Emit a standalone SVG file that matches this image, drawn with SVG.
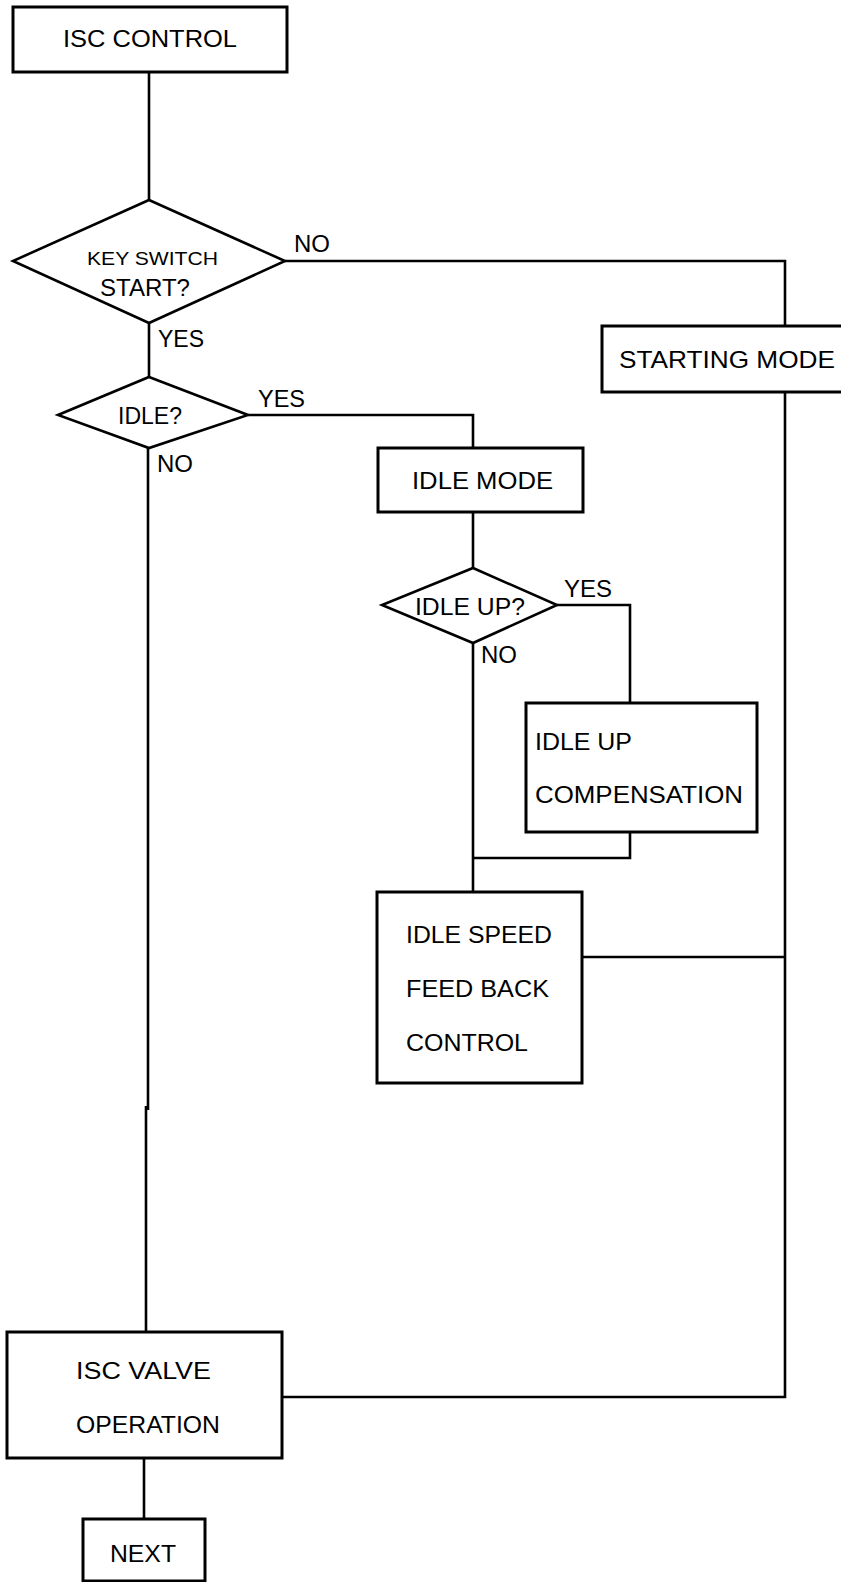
<svg xmlns="http://www.w3.org/2000/svg" width="841" height="1582" viewBox="0 0 841 1582">
  <style>
    .box { fill: #fff; stroke: #000; stroke-width: 3; }
    .dia { fill: #fff; stroke: #000; stroke-width: 2.6; stroke-linejoin: miter; }
    .ln { fill: none; stroke: #000; stroke-width: 2.6; stroke-linejoin: miter; }
    text { font-family: "Liberation Sans", Arial, Helvetica, sans-serif; font-size: 24px; fill: #000; }
    .sm { font-size: 19px; }
  </style>
  <rect width="841" height="1582" fill="#fff"/>

  <!-- connectors -->
  <g id="connectors">
    <path class="ln" d="M149,72 V200"/>
    <path class="ln" d="M285,261 H785 V326"/>
    <path class="ln" d="M149,323 V377"/>
    <path class="ln" d="M248,415 H473 V448"/>
    <path class="ln" d="M148,448 V1110 M146,1106 V1332"/>
    <path class="ln" d="M473,512 V568"/>
    <path class="ln" d="M557,605 H630 V703"/>
    <path class="ln" d="M473,643 V892"/>
    <path class="ln" d="M630,832 V858 H473"/>
    <path class="ln" d="M582,957 H785"/>
    <path class="ln" d="M785,392 V1397 H282"/>
    <path class="ln" d="M144,1458 V1519"/>
  </g>

  <g id="isc-control">
    <rect class="box" x="13" y="7" width="274" height="65"/>
    <text x="63" y="47" textLength="174" lengthAdjust="spacingAndGlyphs">ISC CONTROL</text>
  </g>

  <g id="key-switch">
    <polygon class="dia" points="149,200 285,261 149,323 13,261"/>
    <text class="sm" x="87" y="265" textLength="131" lengthAdjust="spacingAndGlyphs">KEY SWITCH</text>
    <text x="100" y="296" textLength="90" lengthAdjust="spacingAndGlyphs">START?</text>
    <text x="294" y="252" textLength="36" lengthAdjust="spacingAndGlyphs">NO</text>
    <text x="158" y="347" textLength="46" lengthAdjust="spacingAndGlyphs">YES</text>
  </g>

  <g id="starting-mode">
    <rect class="box" x="602" y="326" width="245" height="66"/>
    <text x="619" y="368" textLength="216" lengthAdjust="spacingAndGlyphs">STARTING MODE</text>
  </g>

  <g id="idle">
    <polygon class="dia" points="149,377 248,415 149,448 58,415"/>
    <text x="118" y="424" textLength="64" lengthAdjust="spacingAndGlyphs">IDLE?</text>
    <text x="258" y="407" textLength="47" lengthAdjust="spacingAndGlyphs">YES</text>
    <text x="157" y="472" textLength="36" lengthAdjust="spacingAndGlyphs">NO</text>
  </g>

  <g id="idle-mode">
    <rect class="box" x="378" y="448" width="205" height="64"/>
    <text x="412" y="489" textLength="141" lengthAdjust="spacingAndGlyphs">IDLE MODE</text>
  </g>

  <g id="idle-up">
    <polygon class="dia" points="473,568 557,605 473,643 382,605"/>
    <text x="415" y="615" textLength="110" lengthAdjust="spacingAndGlyphs">IDLE UP?</text>
    <text x="564" y="597" textLength="48" lengthAdjust="spacingAndGlyphs">YES</text>
    <text x="481" y="663" textLength="36" lengthAdjust="spacingAndGlyphs">NO</text>
  </g>

  <g id="idle-up-compensation">
    <rect class="box" x="526" y="703" width="231" height="129"/>
    <text x="535" y="750" textLength="97" lengthAdjust="spacingAndGlyphs">IDLE UP</text>
    <text x="535" y="803" textLength="208" lengthAdjust="spacingAndGlyphs">COMPENSATION</text>
  </g>

  <g id="idle-speed-feedback">
    <rect class="box" x="377" y="892" width="205" height="191"/>
    <text x="406" y="943" textLength="146" lengthAdjust="spacingAndGlyphs">IDLE SPEED</text>
    <text x="406" y="997" textLength="143" lengthAdjust="spacingAndGlyphs">FEED BACK</text>
    <text x="406" y="1051" textLength="122" lengthAdjust="spacingAndGlyphs">CONTROL</text>
  </g>

  <g id="isc-valve-operation">
    <rect class="box" x="7" y="1332" width="275" height="126"/>
    <text x="76" y="1379" textLength="135" lengthAdjust="spacingAndGlyphs">ISC VALVE</text>
    <text x="76" y="1433" textLength="144" lengthAdjust="spacingAndGlyphs">OPERATION</text>
  </g>

  <g id="next">
    <rect class="box" x="83" y="1519" width="122" height="62"/>
    <text x="110" y="1562" textLength="66" lengthAdjust="spacingAndGlyphs">NEXT</text>
  </g>
</svg>
